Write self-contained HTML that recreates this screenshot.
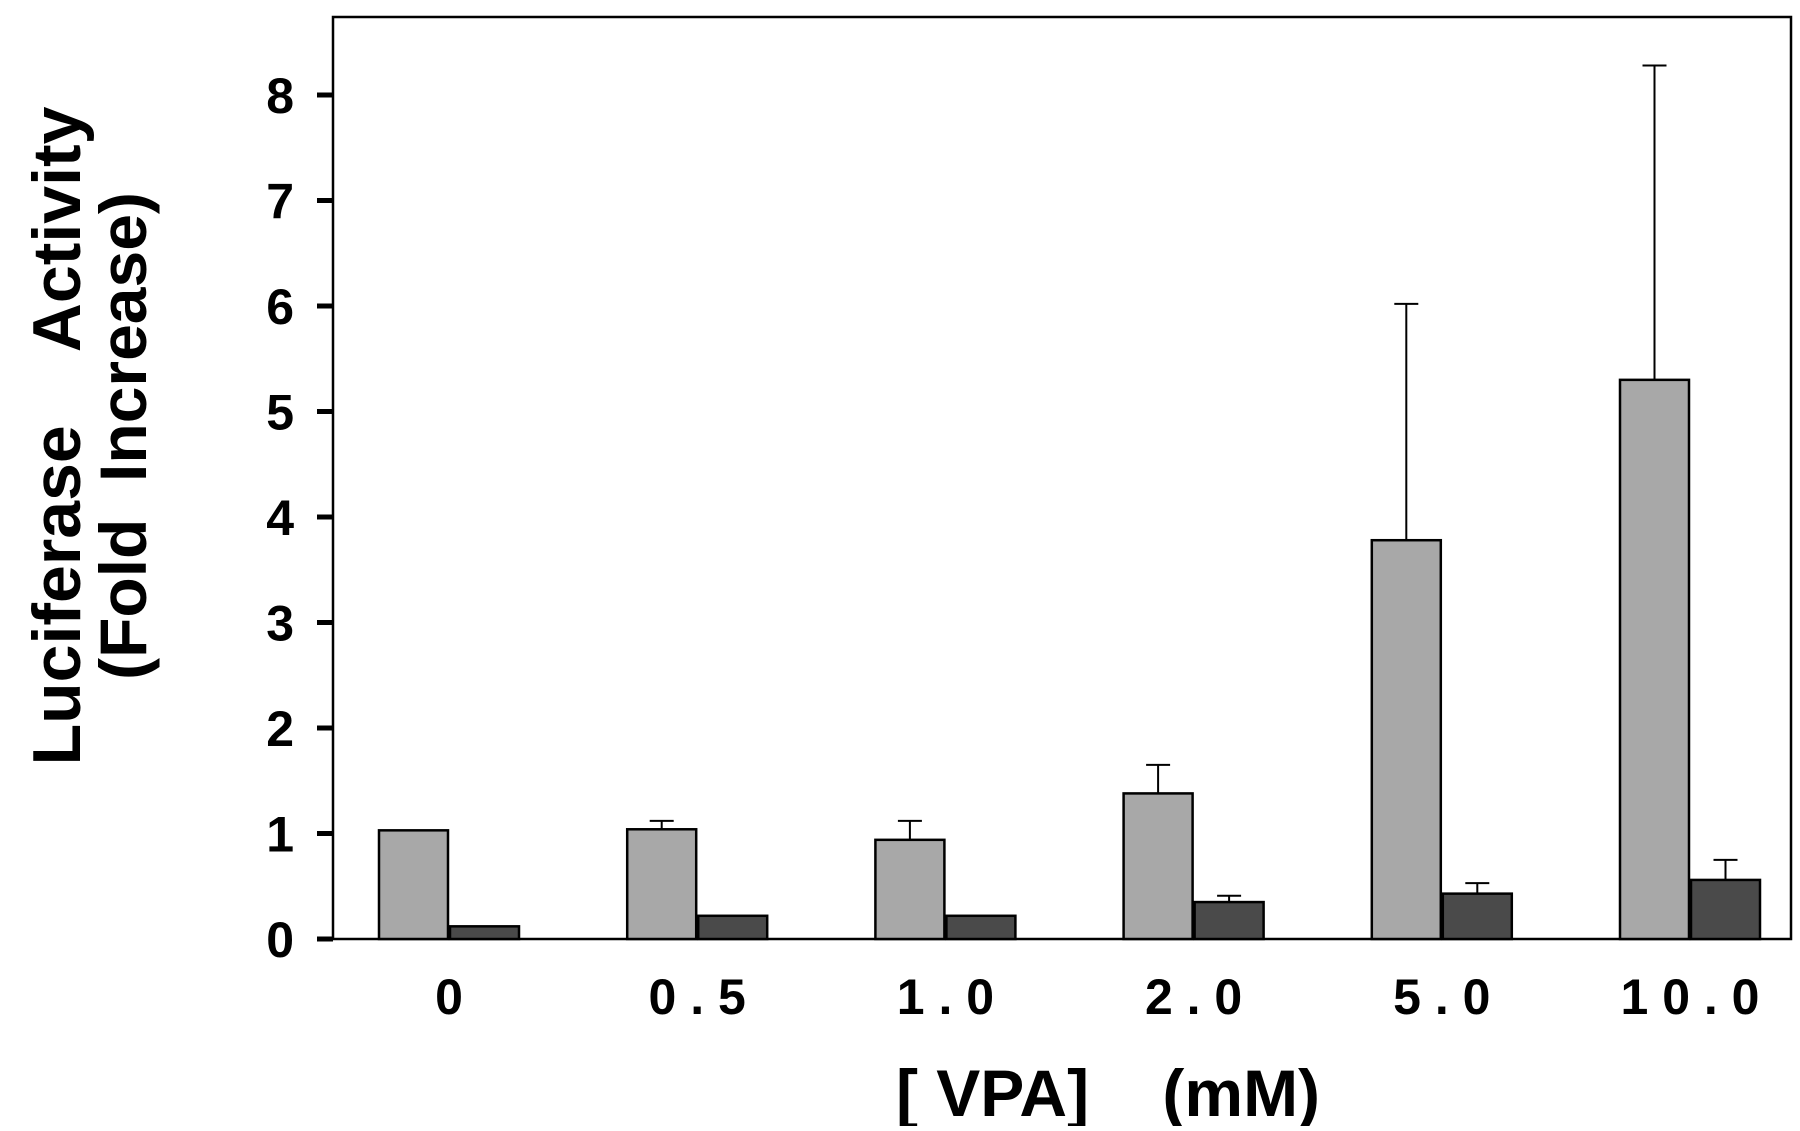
<!DOCTYPE html>
<html><head><meta charset="utf-8"><style>
html,body{margin:0;padding:0;background:#fff}
svg text{font-family:"Liberation Sans",Arial,sans-serif;font-weight:bold;fill:#000}
</style></head><body>
<svg id="chart" width="1800" height="1126" viewBox="0 0 1800 1126">
<rect x="333" y="17" width="1458" height="922" fill="none" stroke="#000" stroke-width="2.5"/>
<g id="bars"></g><g id="yticks"></g><g id="xticks"></g>
<text x="1108" y="1116" font-size="66" text-anchor="middle" xml:space="preserve">[ VPA]    (mM)</text>
<text transform="translate(57,436) rotate(-90)" font-size="68" text-anchor="middle" dominant-baseline="central" xml:space="preserve">Luciferase    Activity</text>
<text transform="translate(123,436) rotate(-90)" font-size="66" text-anchor="middle" dominant-baseline="central" xml:space="preserve">(Fold  Increase)</text>
</svg>
<script>
const categories=["0","0.5","1.0","2.0","5.0","10.0"];
const xLabels=["0","0 . 5","1 . 0","2 . 0","5 . 0","1 0 . 0"];
const vpaValues=[1.03,1.04,0.94,1.38,3.78,5.3];
const vpaErrTop=[1.03,1.12,1.12,1.65,6.02,8.28];
const ctrlValues=[0.12,0.22,0.22,0.35,0.43,0.56];
const ctrlErrTop=[0.12,0.22,0.22,0.41,0.53,0.75];
const yTicks=[0,1,2,3,4,5,6,7,8];
const NS="http://www.w3.org/2000/svg";
const y0=939,unit=105.5;
function yS(v){return y0-v*unit;}
function xS(i){return 379+i*248.2;}
const bw=69;
function mk(t,a,p){const e=document.createElementNS(NS,t);for(const k in a)e.setAttribute(k,a[k]);p.appendChild(e);return e;}
const gb=document.getElementById('bars');
categories.forEach((c,i)=>{
  const x1=xS(i),x2=x1+bw+2;
  const r1=mk('rect',{x:x1,y:yS(vpaValues[i]),width:bw,height:y0-yS(vpaValues[i]),fill:'#a8a8a8',stroke:'#000','stroke-width':2.5},gb);
  
  
  const r2=mk('rect',{x:x2,y:yS(ctrlValues[i]),width:bw,height:y0-yS(ctrlValues[i]),fill:'#4a4a4a',stroke:'#000','stroke-width':2.5},gb);
  
  
  [[x1,vpaValues[i],vpaErrTop[i]],[x2,ctrlValues[i],ctrlErrTop[i]]].forEach(([bx,v,t],k)=>{
    if(t>v+0.01){
      const cx=bx+bw/2;
      const e=mk('path',{d:`M${cx},${yS(v)}V${yS(t)}M${cx-12},${yS(t)}H${cx+12}`,stroke:'#000','stroke-width':2,fill:'none'},gb);
      
      
    }
  });
  const tl=mk('text',{x:x1+bw+1,y:1014,'font-size':50,'text-anchor':'middle'},document.getElementById('xticks'));
  tl.textContent=xLabels[i];
  
  
});
const gy=document.getElementById('yticks');
yTicks.forEach(v=>{
  const t=mk('line',{x1:317,x2:333,y1:yS(v),y2:yS(v),stroke:'#000','stroke-width':5},gy);
  
  
  const l=mk('text',{x:294,y:yS(v)+18,'font-size':50,'text-anchor':'end'},gy);
  l.textContent=v;
  
  
});
</script>
</body></html>
